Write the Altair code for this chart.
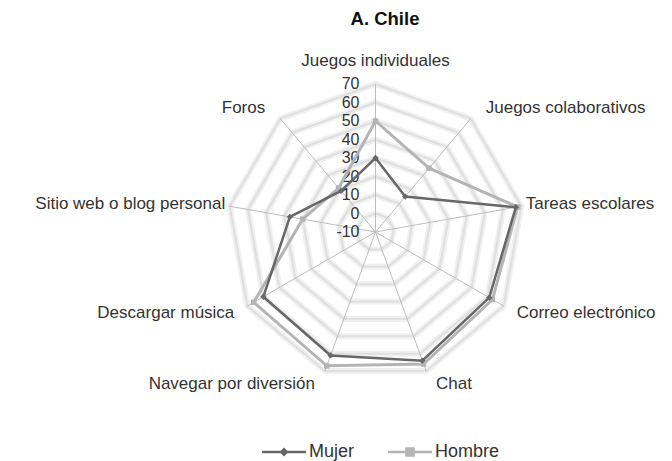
import altair as alt
import pandas as pd

# ---------------- data ----------------
categories = ["Juegos individuales", "Juegos colaborativos", "Tareas escolares",
              "Correo electrónico", "Chat", "Navegar por diversión",
              "Descargar música", "Sitio web o blog personal", "Foros"]
mujer = [30, 15, 67, 61, 64, 61, 60, 37, 19]
hombre = [50, 35, 68, 63, 66, 67, 66, 30, 21]
series = ["Mujer", "Hombre"]
tick_values = [-10, 0, 10, 20, 30, 40, 50, 60, 70]
title_text = "A. Chile"

# ---------------- layout / style ----------------
N = len(categories)
R_MIN, R_MAX = tick_values[0], tick_values[-1]
PX = 1.85            # pixels per unit of value
W, H = 656, 417
CX, CY = 367.5, 188  # centre of the radar in plot pixels
XD = [-CX / PX, (W - CX) / PX]
YD = [-(H - CY) / PX, CY / PX]
FONT = "Liberation Sans"
TXT = "#333333"
C_M, C_H = "#676767", "#b4b4b4"

rows = []
for s, vals in zip(series, [mujer, hombre]):
    for i, (c, v) in enumerate(zip(categories, vals)):
        rows.append({"serie": s, "idx": i, "cat": c, "value": v})
series_df = pd.DataFrame(rows)
ring_df = pd.DataFrame([{"ring": v, "idx": i, "value": v}
                        for v in tick_values[1:] for i in range(N)])
cat_df = pd.DataFrame({"idx": list(range(N)), "cat": categories})
tick_df = pd.DataFrame({"value": tick_values, "label": [str(v) for v in tick_values]})
legend_df = pd.DataFrame({"serie": series})

theta = f"datum.idx * 2 * PI / {N}"


def polar(chart, rexpr):
    return chart.transform_calculate(
        th=theta, rr=rexpr
    ).transform_calculate(
        px="datum.rr * sin(datum.th)", py="datum.rr * cos(datum.th)"
    )


xs = alt.Scale(domain=XD, nice=False, zero=False)
ys = alt.Scale(domain=YD, nice=False, zero=False)
X = alt.X("px:Q", scale=xs, axis=None)
Y = alt.Y("py:Q", scale=ys, axis=None)

# grid rings (soft, blurred look)
rings_wide = polar(alt.Chart(ring_df), f"datum.value - {R_MIN}").mark_line(
    interpolate="linear-closed", color="#f0f0f0", strokeWidth=6
).encode(x=X, y=Y, detail="ring:N", order="idx:Q")
rings = polar(alt.Chart(ring_df), f"datum.value - {R_MIN}").mark_line(
    interpolate="linear-closed", color="#dfdfdf", strokeWidth=2
).encode(x=X, y=Y, detail="ring:N", order="idx:Q")

# spokes
spokes = alt.Chart(cat_df).transform_calculate(
    th=theta, zero="0"
).transform_calculate(
    ex=f"{R_MAX - R_MIN} * sin(datum.th)", ey=f"{R_MAX - R_MIN} * cos(datum.th)"
).mark_rule(color="#bdbdbd", strokeWidth=1).encode(
    x=alt.X("zero:Q", scale=xs, axis=None), y=alt.Y("zero:Q", scale=ys, axis=None),
    x2="ex:Q", y2="ey:Q")

# radial tick labels
ticks = alt.Chart(tick_df).transform_calculate(
    px="0", py=f"datum.value - {R_MIN}"
).mark_text(align="right", baseline="middle", dx=-16, font=FONT, fontSize=16,
            color=TXT).encode(x=X, y=Y, text="label:N")

# category labels
LFS = 17
lab_top = polar(alt.Chart(cat_df).transform_filter("datum.idx == 0"),
                f"{R_MAX - R_MIN} + 9.5").mark_text(
    align="center", baseline="alphabetic", font=FONT, fontSize=LFS, color=TXT
).encode(x=X, y=Y, text="cat:N")


def side_labels(cond, align):
    return alt.Chart(cat_df).transform_filter(cond).transform_calculate(
        th=theta
    ).transform_calculate(
        px=f"(147 + 32 * abs(cos(datum.th))) / {PX} * sin(datum.th)",
        py=f"162 / {PX} * cos(datum.th)",
    ).mark_text(align=align, baseline="middle", font=FONT, fontSize=LFS,
                color=TXT).encode(x=X, y=Y, text="cat:N")


lab_right = side_labels(f"datum.idx > 0 && datum.idx <= {N // 2}", "left")
lab_left = side_labels(f"datum.idx > {N // 2}", "right")


def series_layers(name, color, width, shape, size):
    base = polar(alt.Chart(series_df).transform_filter(f"datum.serie == '{name}'"),
                 f"datum.value - {R_MIN}")
    line = base.mark_line(interpolate="linear-closed", color=color,
                          strokeWidth=width).encode(x=X, y=Y, order="idx:Q")
    pts = base.mark_point(shape=shape, filled=True, size=size, color=color,
                          opacity=1).encode(x=X, y=Y)
    return line, pts


h_line, h_pts = series_layers("Hombre", C_H, 3, "square", 30)
m_line, m_pts = series_layers("Mujer", C_M, 2.5, "diamond", 40)

# legend (line + marker symbols)
path_m = "M-1,-0.055L1,-0.055L1,0.055L-1,0.055Z M0,-0.21L0.21,0L0,0.21L-0.21,0Z"
path_h = "M-1,-0.06L1,-0.06L1,0.06L-1,0.06Z M-0.22,-0.22L0.22,-0.22L0.22,0.22L-0.22,0.22Z"
leg = alt.Legend(title=None, orient="none", legendX=254, legendY=386,
                 direction="horizontal", symbolSize=1936, symbolStrokeWidth=0,
                 labelFont=FONT, labelFontSize=18, labelColor=TXT, labelOffset=3,
                 columnPadding=33)
legend_layer = alt.Chart(legend_df).transform_filter("false").mark_point(
    filled=True, opacity=1
).encode(
    color=alt.Color("serie:N", scale=alt.Scale(domain=series, range=[C_M, C_H]), legend=leg),
    shape=alt.Shape("serie:N", scale=alt.Scale(domain=series, range=[path_m, path_h]), legend=leg),
)

chart = alt.layer(
    rings_wide, rings, spokes, ticks, lab_top, lab_right, lab_left,
    h_line, m_line, h_pts, m_pts, legend_layer
).properties(
    width=W, height=H,
    autosize=alt.AutoSizeParams(type="none"),
    padding={"left": 0, "top": 36, "right": 0, "bottom": 0},
    title=alt.TitleParams(title_text, font=FONT, fontSize=18.5, fontWeight="bold",
                          color="#111111", anchor="middle", frame="group", dx=49,
                          offset=16),
).configure_view(stroke=None)

chart.save("out.html", embed_options={"renderer": "svg", "actions": False})
